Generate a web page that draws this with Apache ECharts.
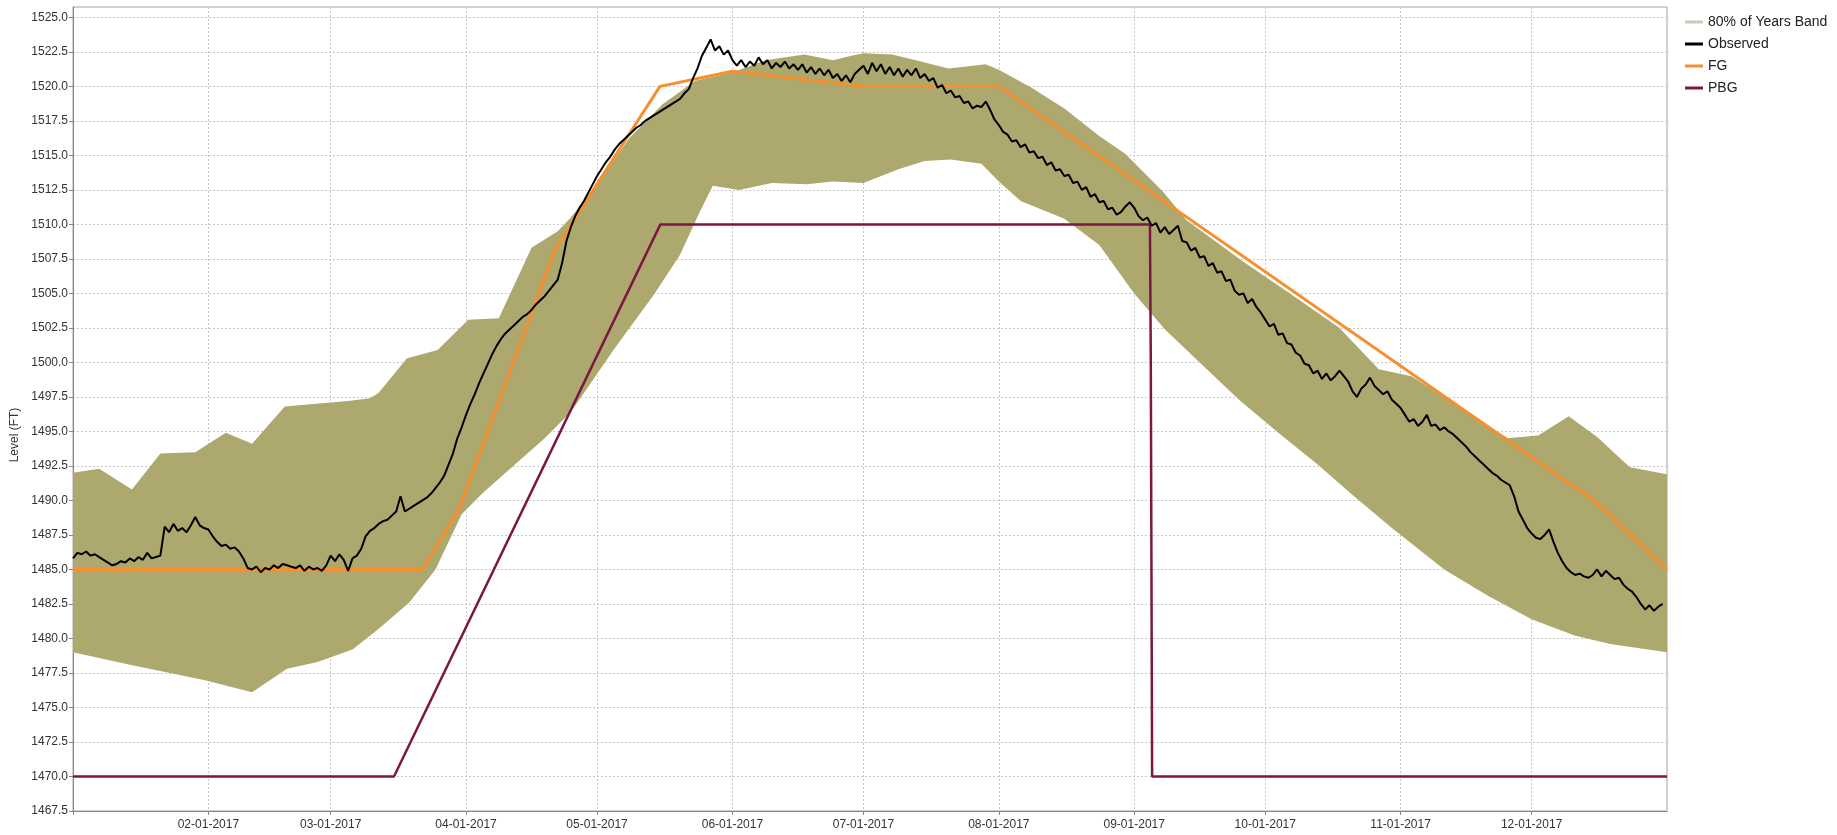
<!DOCTYPE html>
<html>
<head>
<meta charset="utf-8">
<title>Level (FT)</title>
<script src="https://cdn.jsdelivr.net/npm/echarts@6/dist/echarts.min.js"></script>
<style>
	html, body { margin: 0; padding: 0; background: #fff; }
	#chart { width: 1837px; height: 835px; }
</style>
</head>
<body>
<div id="chart"></div>
<script>
const DAY = 86400000
const start = new Date(2017, 0, 1).getTime()
const end = new Date(2018, 0, 1).getTime()
const font = 'Liberation Sans, Arial, sans-serif'

// 80% of years band, [day of year, level]
const bandUpper = [
	[0, 1492.0], [6, 1492.3], [13.5, 1490.8], [20, 1493.4], [28, 1493.5], [35, 1494.9], [41, 1494.1],
	[48.5, 1496.8], [63, 1497.2], [68, 1497.4], [70, 1497.8], [76.5, 1500.3], [83.5, 1500.9], [90.5, 1503.1],
	[97.5, 1503.2], [105, 1508.3], [111, 1509.5], [114, 1510.5], [120, 1512.9], [127.5, 1516.3], [135, 1518.7],
	[142.5, 1520.4], [151, 1521.0], [158.5, 1521.9], [167.5, 1522.3], [174, 1521.9], [178, 1522.2], [181, 1522.4],
	[187.5, 1522.3], [193, 1521.9], [200.5, 1521.3], [209, 1521.6], [212, 1521.2], [219.5, 1519.9], [227, 1518.4],
	[235, 1516.4], [241, 1515.1], [249.5, 1512.4], [255, 1510.3], [268, 1507.3], [280, 1504.7], [290, 1502.5],
	[299, 1499.5], [306.5, 1499.0], [315, 1497.3], [328.5, 1494.5], [335.5, 1494.7], [342.5, 1496.1], [349, 1494.6],
	[356.5, 1492.4], [365, 1491.9]
]
const bandLower = [
	[0, 1479.0], [13, 1478.1], [30, 1477.0], [41, 1476.1], [49, 1477.8], [56, 1478.3], [64, 1479.2], [70, 1480.7],
	[77, 1482.6], [83, 1485.0], [89, 1489.0], [94, 1490.6], [108, 1494.5], [114, 1496.4], [124, 1501.0],
	[133, 1504.9], [139, 1507.8], [143.5, 1510.9], [146.5, 1512.8], [152.5, 1512.5], [160, 1513.0], [168, 1512.9],
	[174, 1513.1], [181, 1513.0], [189, 1514.0], [195, 1514.6], [201, 1514.7], [208, 1514.4], [212, 1513.1],
	[217, 1511.7], [227, 1510.4], [235, 1508.5], [243, 1505.0], [250, 1502.4], [258, 1500.0], [267, 1497.3],
	[276, 1494.9], [285, 1492.6], [293, 1490.4], [302, 1488.0], [314, 1485.0], [324, 1483.1], [334, 1481.4],
	[344, 1480.2], [352, 1479.6], [365, 1479.0]
]
// guide curves, [day of year, level]
const fgCurve = [
	[0, 1485], [80, 1485], [88.3, 1489.3], [110.4, 1508.2], [134.4, 1520], [151, 1521.1], [181, 1520],
	[212, 1520], [348.7, 1489.9], [365, 1485]
]
const pbgCurve = [
	[0, 1470], [73.5, 1470], [134.5, 1510], [246.6, 1510], [246.8, 1500], [247.1, 1470], [365, 1470]
]
// observed level, one reading per day from 01-01-2017
const observed = [
	// jan
	1485.8, 1486.2, 1486.1, 1486.3, 1486.0, 1486.1, 1485.9, 1485.7, 1485.5, 1485.3, 1485.4, 1485.6, 1485.5, 1485.8, 1485.6, 1485.9,
	1485.7, 1486.2, 1485.8, 1485.9, 1486.0, 1488.1, 1487.7, 1488.3, 1487.8, 1488.0, 1487.7, 1488.2, 1488.8, 1488.2, 1488.0,
	// feb
	1487.9, 1487.4, 1487.0, 1486.7, 1486.8, 1486.5, 1486.6, 1486.3, 1485.8, 1485.1, 1485.0, 1485.2, 1484.8, 1485.1, 1485.0, 1485.3,
	1485.1, 1485.4, 1485.3, 1485.2, 1485.1, 1485.3, 1484.9, 1485.2, 1485.0, 1485.1, 1484.9, 1485.3,
	// mar
	1486.0, 1485.6, 1486.1, 1485.7, 1484.9, 1485.8, 1486.0, 1486.5, 1487.4, 1487.8, 1488.0, 1488.3, 1488.5, 1488.6, 1488.9, 1489.2,
	1490.3, 1489.2, 1489.4, 1489.6, 1489.8, 1490.0, 1490.2, 1490.5, 1490.9, 1491.3, 1491.8, 1492.6, 1493.4, 1494.5, 1495.3,
	// apr
	1496.2, 1497.0, 1497.7, 1498.5, 1499.2, 1499.9, 1500.6, 1501.2, 1501.7, 1502.1, 1502.4, 1502.7, 1503.0, 1503.3, 1503.5, 1503.8,
	1504.2, 1504.5, 1504.8, 1505.2, 1505.6, 1506.0, 1507.2, 1508.8, 1509.8, 1510.6, 1511.2, 1511.7, 1512.3, 1512.9,
	// may
	1513.5, 1514.0, 1514.5, 1514.9, 1515.4, 1515.8, 1516.1, 1516.4, 1516.7, 1517.0, 1517.2, 1517.5, 1517.7, 1517.9, 1518.1, 1518.3,
	1518.5, 1518.7, 1518.9, 1519.1, 1519.5, 1519.8, 1520.6, 1521.3, 1522.2, 1522.8, 1523.4, 1522.6, 1522.9, 1522.3, 1522.6,
	// jun
	1521.9, 1521.5, 1521.9, 1521.4, 1521.8, 1521.5, 1522.1, 1521.6, 1521.9, 1521.3, 1521.7, 1521.4, 1521.8, 1521.3, 1521.6, 1521.2,
	1521.6, 1521.0, 1521.4, 1520.9, 1521.3, 1520.8, 1521.2, 1520.6, 1520.9, 1520.4, 1520.8, 1520.3, 1520.9, 1521.2,
	// jul
	1521.5, 1520.9, 1521.7, 1521.1, 1521.6, 1520.9, 1521.4, 1520.8, 1521.3, 1520.7, 1521.2, 1520.8, 1521.3, 1520.6, 1520.9, 1520.4,
	1520.6, 1519.9, 1520.1, 1519.5, 1519.7, 1519.2, 1519.3, 1518.8, 1518.9, 1518.4, 1518.6, 1518.5, 1518.9, 1518.3, 1517.6,
	// aug
	1517.2, 1516.7, 1516.5, 1516.0, 1516.1, 1515.6, 1515.8, 1515.2, 1515.3, 1514.8, 1514.9, 1514.3, 1514.5, 1513.9, 1514.0, 1513.5,
	1513.6, 1513.0, 1513.1, 1512.5, 1512.7, 1512.0, 1512.2, 1511.6, 1511.7, 1511.1, 1511.2, 1510.7, 1510.9, 1511.3, 1511.6,
	// sep
	1511.2, 1510.6, 1510.3, 1510.5, 1509.9, 1510.1, 1509.4, 1509.8, 1509.3, 1509.6, 1509.9, 1508.8, 1508.7, 1508.1, 1508.3, 1507.6,
	1507.7, 1507.0, 1507.2, 1506.5, 1506.6, 1505.9, 1506.0, 1505.2, 1504.9, 1505.0, 1504.3, 1504.6, 1504.0, 1503.6,
	// oct
	1503.1, 1502.6, 1502.8, 1502.0, 1502.1, 1501.4, 1501.3, 1500.7, 1500.5, 1499.9, 1499.8, 1499.2, 1499.4, 1498.8, 1499.2, 1498.7,
	1499.0, 1499.4, 1499.0, 1498.6, 1497.9, 1497.5, 1498.1, 1498.4, 1498.9, 1498.3, 1498.0, 1497.7, 1497.9, 1497.3, 1497.0,
	// nov
	1496.7, 1496.2, 1495.7, 1495.9, 1495.4, 1495.7, 1496.2, 1495.4, 1495.5, 1495.1, 1495.3, 1495.0, 1494.8, 1494.5, 1494.2, 1493.9,
	1493.5, 1493.2, 1492.9, 1492.6, 1492.3, 1492.0, 1491.8, 1491.5, 1491.3, 1491.1, 1490.3, 1489.2, 1488.6, 1488.0,
	// dec
	1487.6, 1487.3, 1487.2, 1487.5, 1487.9, 1487.0, 1486.2, 1485.6, 1485.1, 1484.8, 1484.6, 1484.7, 1484.5, 1484.4, 1484.6, 1485.0,
	1484.5, 1484.9, 1484.6, 1484.3, 1484.4, 1483.9, 1483.6, 1483.4, 1483.0, 1482.5, 1482.1, 1482.4, 1482.0, 1482.3, 1482.5
]

const toTime = (pts) => pts.map(p => [start + p[0] * DAY, p[1]])
const pad = n => (n < 10 ? '0' : '') + n

const upperT = toTime(bandUpper)
const lowerT = toTime(bandLower)

const chart = echarts.init(document.getElementById('chart'))
const option = {
	animation: false,
	backgroundColor: '#fff',
	textStyle: { fontFamily: font },
	grid: {
		left: 73,
		right: 170,
		top: 7,
		bottom: 24,
		show: true,
		borderColor: '#a8a8a8',
		borderWidth: 1
	},
	legend: {
		orient: 'vertical',
		left: 1680,
		top: 10,
		itemWidth: 18,
		itemHeight: 3,
		itemGap: 8,
		icon: 'rect',
		textStyle: { fontSize: 14, color: '#222', fontFamily: font },
		data: [
			{ name: '80% of Years Band', itemStyle: { color: '#cdcbb4' } },
			{ name: 'Observed' },
			{ name: 'FG' },
			{ name: 'PBG' }
		]
	},
	xAxis: {
		type: 'time',
		min: start,
		max: end,
		splitNumber: 12,
		minInterval: 28 * DAY,
		axisLine: { lineStyle: { color: '#888' } },
		axisTick: { show: true, length: 4, lineStyle: { color: '#888' } },
		axisLabel: {
			color: '#333',
			fontSize: 12,
			margin: 8,
			hideOverlap: false,
			formatter: function (value) {
				const d = new Date(value)
				if (d.getMonth() === 0) return ''
				return pad(d.getMonth() + 1) + '-' + pad(d.getDate()) + '-' + d.getFullYear()
			}
		},
		splitLine: { show: true, lineStyle: { color: '#c8c8c8', type: [2, 2] } }
	},
	yAxis: {
		type: 'value',
		min: 1467.5,
		max: 1525.75,
		interval: 2.5,
		name: 'Level (FT)',
		nameLocation: 'middle',
		nameGap: 47,
		nameTextStyle: { fontSize: 12, color: '#333', padding: [0, 52, 0, 0] },
		axisLine: { show: true, lineStyle: { color: '#888' } },
		axisTick: { show: true, length: 4, lineStyle: { color: '#888' } },
		axisLabel: {
			color: '#333',
			fontSize: 12,
			margin: 5,
			showMaxLabel: false,
			formatter: v => v.toFixed(1)
		},
		splitLine: { show: true, lineStyle: { color: '#c8c8c8', type: [2, 2] } }
	},
	series: [
		{
			name: '80% of Years Band',
			type: 'custom',
			clip: true,
			z: 1,
			itemStyle: { color: '#aca86e' },
			data: [[start, 1480]],
			renderItem: function (params, api) {
				const pts = upperT.map(p => api.coord(p))
					.concat(lowerT.slice().reverse().map(p => api.coord(p)))
				return {
					type: 'polygon',
					shape: { points: pts },
					style: { fill: '#aca86e', stroke: null }
				}
			}
		},
		{
			name: 'PBG',
			type: 'line',
			z: 3,
			showSymbol: false,
			lineStyle: { color: '#7a1742', width: 2.5 },
			itemStyle: { color: '#7a1742' },
			data: toTime(pbgCurve)
		},
		{
			name: 'FG',
			type: 'line',
			z: 4,
			showSymbol: false,
			lineStyle: { color: '#f78f2c', width: 3 },
			itemStyle: { color: '#f78f2c' },
			data: toTime(fgCurve)
		},
		{
			name: 'Observed',
			type: 'line',
			z: 5,
			showSymbol: false,
			lineStyle: { color: '#000', width: 2 },
			itemStyle: { color: '#000' },
			data: observed.map((v, i) => [start + i * DAY, v])
		}
	]
}
chart.setOption(option)
</script>
</body>
</html>
